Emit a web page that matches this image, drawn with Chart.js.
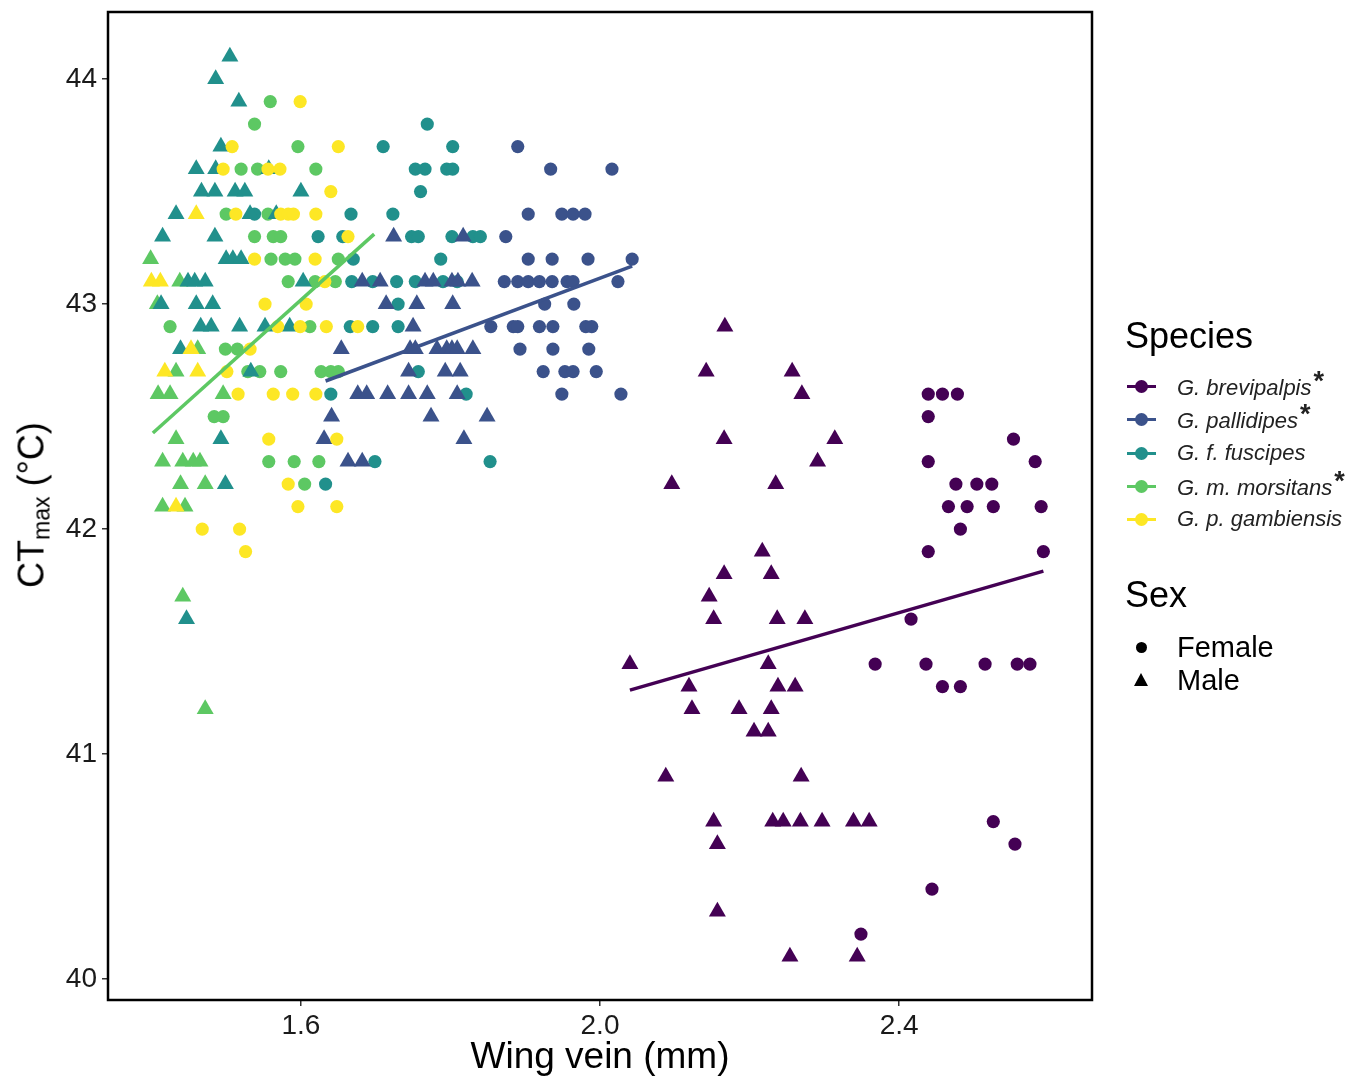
<!DOCTYPE html>
<html>
<head>
<meta charset="utf-8">
<script src="https://cdn.jsdelivr.net/npm/chart.js@4.4.1/dist/chart.umd.min.js"></script>
<style>
  body { margin: 0; background: #fff; font-family: 'Liberation Sans', Arial, sans-serif; }
  #wrap { position: relative; width: 1366px; height: 1080px; }
  canvas { position: absolute; left: 0; top: 0; }
  .ytitle { position: absolute; left: 33px; top: 505px; transform: translate(-50%, -50%) rotate(-90deg); font-size: 36px; color: #000; white-space: nowrap; }
  .ytitle sub { font-size: 23px; vertical-align: -6px; }
  .legend { position: absolute; left: 1125px; top: 0; color: #000; }
  .lg-title { position: absolute; left: 0; font-size: 36px; white-space: nowrap; transform: translateY(-50%); }
  .lg-item { position: absolute; left: 0; height: 30px; width: 240px; transform: translateY(-50%); }
  .lg-line { position: absolute; left: 2px; top: 13.5px; width: 29px; height: 3px; }
  .lg-dot { position: absolute; left: 10px; top: 8.5px; width: 13px; height: 13px; border-radius: 50%; }
  .lg-text { position: absolute; left: 52px; top: 50%; transform: translateY(-50%); font-size: 22px; font-style: italic; color: #222; white-space: nowrap; }
  .lg-text b { font-style: normal; font-size: 27px; position: relative; top: -5px; margin-left: 2px; }
  .sex-text { position: absolute; left: 52px; top: 50%; transform: translateY(-50%); font-size: 29px; white-space: nowrap; }
  .sex-circle { position: absolute; left: 11px; top: 10px; width: 11px; height: 11px; border-radius: 50%; background: #000; }
  .sex-tri { position: absolute; left: 9px; top: 8px; width: 0; height: 0; border-left: 7.5px solid transparent; border-right: 7.5px solid transparent; border-bottom: 13px solid #000; }
</style>
</head>
<body>
<div id="wrap">
  <canvas id="chart" width="1366" height="1080"></canvas>
  <div class="ytitle">CT<sub>max</sub> (°C)</div>
  <div class="legend" id="legend"></div>
</div>
<script>
// tick values
const xTicks = [1.6, 2.0, 2.4];
const yTicks = [40, 41, 42, 43, 44];

// species (legend order)
const speciesNames = ['G. brevipalpis', 'G. pallidipes', 'G. f. fuscipes', 'G. m. morsitans', 'G. p. gambiensis'];
const speciesSignif = [true, true, false, true, false];
const sexNames = ['Female', 'Male'];

// points: [wing vein (mm), CTmax (°C)]
const brevipalpisFemale = [[2.439,42.6],[2.458,42.6],[2.478,42.6],[2.439,42.5],[2.553,42.4],[2.439,42.3],[2.582,42.3],[2.476,42.2],[2.504,42.2],[2.524,42.2],[2.466,42.1],[2.491,42.1],[2.526,42.1],[2.590,42.1],[2.482,42.0],[2.439,41.9],[2.593,41.9],[2.416,41.6],[2.368,41.4],[2.436,41.4],[2.515,41.4],[2.558,41.4],[2.575,41.4],[2.458,41.3],[2.482,41.3],[2.526,40.7],[2.555,40.6],[2.444,40.4],[2.349,40.2]];
const brevipalpisMale = [[2.167,42.9],[2.142,42.7],[2.257,42.7],[2.270,42.6],[2.166,42.4],[2.314,42.4],[2.291,42.3],[2.096,42.2],[2.235,42.2],[2.217,41.9],[2.166,41.8],[2.229,41.8],[2.146,41.7],[2.152,41.6],[2.237,41.6],[2.274,41.6],[2.040,41.4],[2.225,41.4],[2.119,41.3],[2.238,41.3],[2.261,41.3],[2.123,41.2],[2.186,41.2],[2.229,41.2],[2.206,41.1],[2.225,41.1],[2.088,40.9],[2.269,40.9],[2.152,40.7],[2.231,40.7],[2.245,40.7],[2.268,40.7],[2.297,40.7],[2.339,40.7],[2.360,40.7],[2.157,40.6],[2.157,40.3],[2.254,40.1],[2.344,40.1]];
const pallidipesFemale = [[1.890,43.7],[1.934,43.6],[2.016,43.6],[1.904,43.4],[1.949,43.4],[1.964,43.4],[1.980,43.4],[1.874,43.3],[1.904,43.2],[1.936,43.2],[1.984,43.2],[2.043,43.2],[1.872,43.1],[1.890,43.1],[1.904,43.1],[1.919,43.1],[1.936,43.1],[1.956,43.1],[1.964,43.1],[2.024,43.1],[1.926,43.0],[1.965,43.0],[1.854,42.9],[1.884,42.9],[1.890,42.9],[1.919,42.9],[1.937,42.9],[1.981,42.9],[1.989,42.9],[1.893,42.8],[1.937,42.8],[1.985,42.8],[1.924,42.7],[1.953,42.7],[1.964,42.7],[1.995,42.7],[1.949,42.6],[2.028,42.6]];
const pallidipesMale = [[1.724,43.3],[1.817,43.3],[1.682,43.1],[1.706,43.1],[1.766,43.1],[1.777,43.1],[1.802,43.1],[1.810,43.1],[1.829,43.1],[1.714,43.0],[1.755,43.0],[1.803,43.0],[1.750,42.9],[1.654,42.8],[1.746,42.8],[1.753,42.8],[1.782,42.8],[1.795,42.8],[1.802,42.8],[1.809,42.8],[1.830,42.8],[1.744,42.7],[1.793,42.7],[1.813,42.7],[1.676,42.6],[1.688,42.6],[1.716,42.6],[1.744,42.6],[1.769,42.6],[1.809,42.6],[1.641,42.5],[1.774,42.5],[1.849,42.5],[1.631,42.4],[1.818,42.4],[1.663,42.3],[1.682,42.3]];
const fuscipesFemale = [[1.769,43.8],[1.710,43.7],[1.803,43.7],[1.753,43.6],[1.766,43.6],[1.795,43.6],[1.803,43.6],[1.760,43.5],[1.538,43.4],[1.667,43.4],[1.723,43.4],[1.623,43.3],[1.656,43.3],[1.748,43.3],[1.757,43.3],[1.802,43.3],[1.830,43.3],[1.840,43.3],[1.670,43.2],[1.787,43.2],[1.668,43.1],[1.696,43.1],[1.728,43.1],[1.753,43.1],[1.790,43.1],[1.809,43.1],[1.730,43.0],[1.666,42.9],[1.696,42.9],[1.730,42.9],[1.757,42.7],[1.640,42.6],[1.821,42.6],[1.699,42.3],[1.853,42.3],[1.633,42.2]];
const fuscipesMale = [[1.505,44.1],[1.486,44.0],[1.517,43.9],[1.493,43.7],[1.460,43.6],[1.486,43.6],[1.557,43.6],[1.467,43.5],[1.485,43.5],[1.512,43.5],[1.525,43.5],[1.600,43.5],[1.433,43.4],[1.532,43.4],[1.567,43.4],[1.415,43.3],[1.485,43.3],[1.500,43.2],[1.509,43.2],[1.520,43.2],[1.449,43.1],[1.458,43.1],[1.472,43.1],[1.603,43.1],[1.413,43.0],[1.460,43.0],[1.482,43.0],[1.466,42.9],[1.480,42.9],[1.518,42.9],[1.552,42.9],[1.585,42.9],[1.439,42.8],[1.533,42.7],[1.493,42.4],[1.499,42.2],[1.447,41.6]];
const morsitansFemale = [[1.559,43.9],[1.538,43.8],[1.596,43.7],[1.520,43.6],[1.542,43.6],[1.620,43.6],[1.500,43.4],[1.556,43.4],[1.538,43.3],[1.563,43.3],[1.573,43.3],[1.560,43.2],[1.579,43.2],[1.592,43.2],[1.650,43.2],[1.583,43.1],[1.619,43.1],[1.646,43.1],[1.425,42.9],[1.612,42.9],[1.499,42.8],[1.515,42.8],[1.529,42.7],[1.545,42.7],[1.573,42.7],[1.627,42.7],[1.640,42.7],[1.650,42.7],[1.484,42.5],[1.496,42.5],[1.557,42.3],[1.591,42.3],[1.624,42.3],[1.605,42.2]];
const morsitansMale = [[1.399,43.2],[1.438,43.1],[1.408,43.0],[1.462,42.8],[1.433,42.7],[1.409,42.6],[1.425,42.6],[1.496,42.6],[1.433,42.4],[1.415,42.3],[1.442,42.3],[1.456,42.3],[1.465,42.3],[1.439,42.2],[1.472,42.2],[1.415,42.1],[1.445,42.1],[1.442,41.7],[1.472,41.2]];
const gambiensisFemale = [[1.599,43.9],[1.508,43.7],[1.650,43.7],[1.496,43.6],[1.556,43.6],[1.572,43.6],[1.640,43.5],[1.513,43.4],[1.573,43.4],[1.583,43.4],[1.590,43.4],[1.620,43.4],[1.663,43.3],[1.538,43.2],[1.619,43.2],[1.632,43.1],[1.552,43.0],[1.607,43.0],[1.569,42.9],[1.599,42.9],[1.634,42.9],[1.676,42.9],[1.532,42.8],[1.501,42.7],[1.516,42.6],[1.563,42.6],[1.589,42.6],[1.620,42.6],[1.557,42.4],[1.648,42.4],[1.583,42.2],[1.596,42.1],[1.648,42.1],[1.468,42.0],[1.518,42.0],[1.526,41.9]];
const gambiensisMale = [[1.460,43.4],[1.400,43.1],[1.412,43.1],[1.453,42.8],[1.418,42.7],[1.462,42.7],[1.433,42.1]];

// fitted lines (significant species only), end points
const brevipalpisFit = [[2.040,41.284],[2.593,41.813]];
const pallidipesFit = [[1.633,42.658],[2.043,43.169]];
const morsitansFit = [[1.402,42.427],[1.698,43.311]];

const colors = {
    brevipalpis: '#440154',
    pallidipes: '#3B528B',
    fuscipes: '#21908C',
    morsitans: '#5DC863',
    gambiensis: '#FDE725'
};
const speciesColors = [colors.brevipalpis, colors.pallidipes, colors.fuscipes, colors.morsitans, colors.gambiensis];

const toXY = arr => arr.map(p => ({ x: p[0], y: p[1] }));

function pointSet(data, color, male, order) {
    return {
        type: 'scatter',
        data: toXY(data),
        pointStyle: male ? 'triangle' : 'circle',
        pointRadius: male ? 9.8 : 6.6,
        backgroundColor: color,
        borderColor: color,
        borderWidth: 0,
        pointHoverRadius: male ? 9.8 : 6.6,
        order: order
    };
}
function fitSet(data, color) {
    return {
        type: 'line',
        data: toXY(data),
        borderColor: color,
        borderWidth: 3.5,
        pointRadius: 0,
        showLine: true,
        fill: false,
        order: 0
    };
}

const datasets = [
    pointSet(morsitansFemale, colors.morsitans, false, 20),
    pointSet(morsitansMale, colors.morsitans, true, 19),
    pointSet(fuscipesFemale, colors.fuscipes, false, 18),
    pointSet(fuscipesMale, colors.fuscipes, true, 17),
    pointSet(pallidipesFemale, colors.pallidipes, false, 16),
    pointSet(pallidipesMale, colors.pallidipes, true, 15),
    pointSet(gambiensisFemale, colors.gambiensis, false, 14),
    pointSet(gambiensisMale, colors.gambiensis, true, 13),
    pointSet(brevipalpisFemale, colors.brevipalpis, false, 12),
    pointSet(brevipalpisMale, colors.brevipalpis, true, 11),
    fitSet(brevipalpisFit, colors.brevipalpis),
    fitSet(pallidipesFit, colors.pallidipes),
    fitSet(morsitansFit, colors.morsitans)
];

const panelBorder = {
    id: 'panelBorder',
    afterDatasetsDraw(chart) {
        const { ctx, chartArea: a } = chart;
        ctx.save();
        ctx.strokeStyle = '#000';
        ctx.lineWidth = 2.5;
        ctx.strokeRect(a.left, a.top, a.right - a.left, a.bottom - a.top);
        ctx.restore();
    }
};

const tickFont = { family: "'Liberation Sans', Arial, sans-serif", size: 28 };

new Chart(document.getElementById('chart').getContext('2d'), {
    type: 'scatter',
    data: { datasets },
    options: {
        responsive: false,
        animation: false,
        devicePixelRatio: 1,
        layout: { padding: { left: 0, right: 274, top: 12, bottom: 0 } },
        plugins: { legend: { display: false }, tooltip: { enabled: false } },
        scales: {
            x: {
                type: 'linear',
                min: 1.342,
                max: 2.658,
                afterBuildTicks: s => { s.ticks = xTicks.map(v => ({ value: v })); },
                afterFit: s => { s.height = 80; s.paddingLeft = 0; s.paddingRight = 0; },
                ticks: { font: tickFont, color: '#1a1a1a', padding: 3, callback: v => v.toFixed(1) },
                grid: { drawOnChartArea: false, drawTicks: true, tickLength: 6, color: '#333', lineWidth: 1.5 },
                border: { display: false },
                title: {
                    display: true,
                    text: 'Wing vein (mm)',
                    color: '#000',
                    font: { family: "'Liberation Sans', Arial, sans-serif", size: 37 },
                    padding: { top: 0, bottom: 0 }
                }
            },
            y: {
                type: 'linear',
                min: 39.907,
                max: 44.298,
                afterBuildTicks: s => { s.ticks = yTicks.map(v => ({ value: v })); },
                afterFit: s => { s.width = 108; s.paddingTop = 0; s.paddingBottom = 0; },
                ticks: { font: tickFont, color: '#1a1a1a', padding: 5 },
                grid: { drawOnChartArea: false, drawTicks: true, tickLength: 6, color: '#333', lineWidth: 1.5 },
                border: { display: false }
            }
        }
    },
    plugins: [panelBorder]
});

// legend
const legend = document.getElementById('legend');
let html = '<div class="lg-title" style="top:336px">Species</div>';
const itemY = [386, 419, 453, 486, 519];
speciesNames.forEach((name, i) => {
    html += `<div class="lg-item" style="top:${itemY[i]}px">
        <div class="lg-line" style="background:${speciesColors[i]}"></div>
        <div class="lg-dot" style="background:${speciesColors[i]}"></div>
        <div class="lg-text">${name}${speciesSignif[i] ? '<b>*</b>' : ''}</div>
    </div>`;
});
html += '<div class="lg-title" style="top:595px">Sex</div>';
const sexY = [647, 680];
sexNames.forEach((name, i) => {
    html += `<div class="lg-item" style="top:${sexY[i]}px">
        <div class="${i === 0 ? 'sex-circle' : 'sex-tri'}"></div>
        <div class="sex-text">${name}</div>
    </div>`;
});
legend.innerHTML = html;
</script>
</body>
</html>
